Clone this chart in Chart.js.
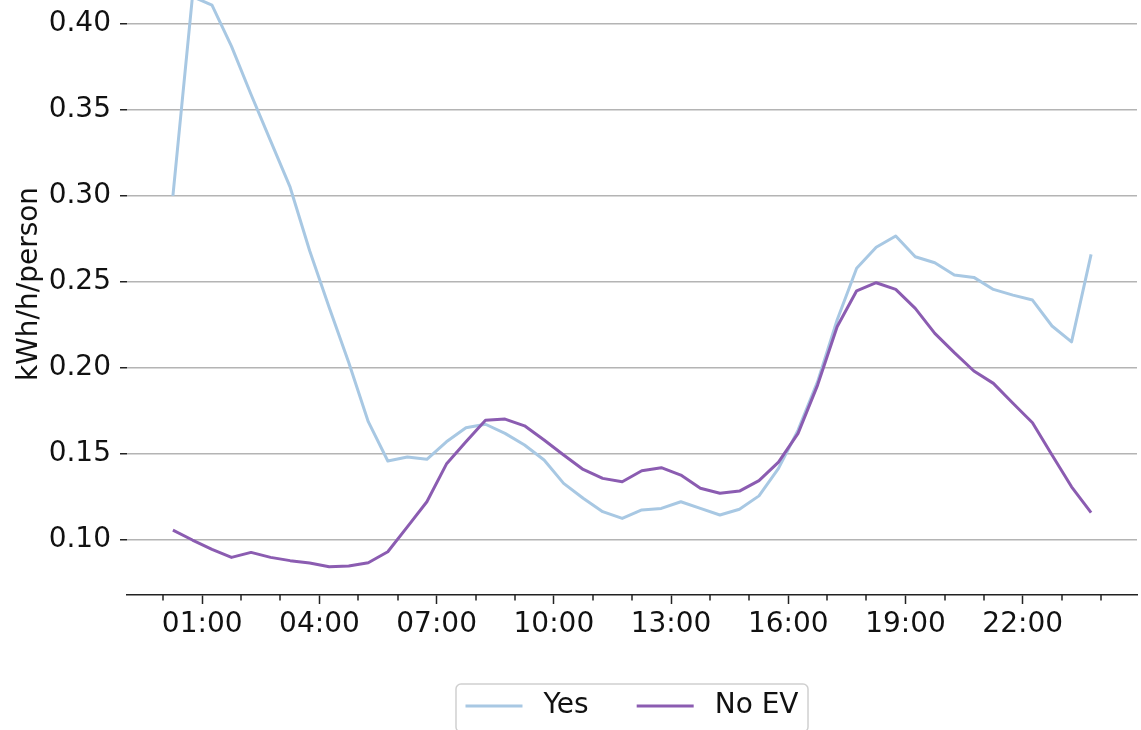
<!DOCTYPE html>
<html>
<head>
<meta charset="utf-8">
<script src="https://cdn.jsdelivr.net/npm/chart.js@4.4.1/dist/chart.umd.min.js"></script>
<style>
  html, body { margin: 0; padding: 0; background: #fff; overflow: hidden; width: 1141px; height: 730px; }
  #wrap { position: absolute; left: 0; top: -40px; }
</style>
</head>
<body>
<div id="wrap"><canvas id="c" width="1141" height="770"></canvas></div>
<script>
// Half-hourly slot mid-points
const slotTimes = [
  '00:15','00:45','01:15','01:45','02:15','02:45','03:15','03:45',
  '04:15','04:45','05:15','05:45','06:15','06:45','07:15','07:45',
  '08:15','08:45','09:15','09:45','10:15','10:45','11:15','11:45',
  '12:15','12:45','13:15','13:45','14:15','14:45','15:15','15:45',
  '16:15','16:45','17:15','17:45','18:15','18:45','19:15','19:45',
  '20:15','20:45','21:15','21:45','22:15','22:45','23:15','23:45'
];

// Average consumption, kWh/h/person
const yesValues = [
  0.300, 0.416, 0.411, 0.387, 0.359, 0.332, 0.305, 0.268,
  0.235, 0.203, 0.1685, 0.1456, 0.1479, 0.1466, 0.1568, 0.1650,
  0.1670, 0.1617, 0.1549, 0.1462, 0.1326, 0.1239, 0.1161, 0.1122,
  0.1171, 0.1180, 0.1219, 0.1180, 0.1142, 0.1175, 0.1253, 0.1413,
  0.1636, 0.1918, 0.2277, 0.2578, 0.2700, 0.2766, 0.2645, 0.2610,
  0.2539, 0.2525, 0.2455, 0.2422, 0.2393, 0.2242, 0.2150, 0.2659
];
const noEvValues = [
  0.1054, 0.0996, 0.0942, 0.0895, 0.0924, 0.0895, 0.0876, 0.0862,
  0.0841, 0.0845, 0.0864, 0.0928, 0.1073, 0.1219, 0.1438, 0.1568,
  0.1693, 0.1700, 0.1661, 0.1578, 0.1491, 0.1407, 0.1355, 0.1335,
  0.1399, 0.1417, 0.1374, 0.1297, 0.1268, 0.1281, 0.1342, 0.1450,
  0.1617, 0.1898, 0.2238, 0.2447, 0.2494, 0.2455, 0.2345, 0.2199,
  0.2087, 0.1980, 0.1908, 0.1792, 0.1679, 0.1491, 0.1306, 0.1155
];

const seriesNames = ['Yes', 'No EV'];
const seriesColors = ['#a8c8e3', '#8b5cb1'];

// Axis ticks
const hourTicks = [0,1,2,3,4,5,6,7,8,9,10,11,12,13,14,15,16,17,18,19,20,21,22,23,24];
const labelledTicks = ['01:00','04:00','07:00','10:00','13:00','16:00','19:00','22:00'];
const yTicks = [0.10, 0.15, 0.20, 0.25, 0.30, 0.35, 0.40];

const FONT = "'DejaVu Sans', 'Liberation Sans', sans-serif";
const INK = '#111111';
const AXIS = '#222222';

function toHours(t) { const [h, m] = t.split(':').map(Number); return h + m / 60; }
function fmtHour(h) { return String(h).padStart(2, '0') + ':00'; }
function isLabelled(h) { return labelledTicks.includes(fmtHour(h)); }

const points = vals => slotTimes.map((t, i) => ({ x: toHours(t), y: vals[i] }));

// Short unlabelled hour ticks under the x axis
const minorTicks = {
  id: 'minorTicks',
  afterDraw(chart) {
    const s = chart.scales.x, ctx = chart.ctx;
    ctx.save();
    ctx.strokeStyle = AXIS;
    ctx.lineWidth = 1.5;
    hourTicks.forEach(h => {
      if (isLabelled(h)) return;
      const x = Math.round(s.getPixelForValue(h));
      ctx.beginPath();
      ctx.moveTo(x, s.top);
      ctx.lineTo(x, s.top + 5.5);
      ctx.stroke();
    });
    ctx.restore();
  }
};

// Framed legend with line samples, centred under the plot
const framedLegend = {
  id: 'framedLegend',
  afterDraw(chart) {
    const ctx = chart.ctx, area = chart.chartArea;
    ctx.save();
    ctx.font = '28px ' + FONT;
    const handle = 57, textGap = 21, colGap = 48, pad = 9.5;
    const items = chart.data.datasets.map(d => ({ label: d.label, color: d.borderColor, w: ctx.measureText(d.label).width }));
    const total = pad * 2 + items.reduce((a, it, i) => a + handle + textGap + it.w + (i ? colGap : 0), 0);
    const left = (area.left + area.right) / 2 - total / 2;
    const top = area.bottom + 89;
    const cy = top + 22;
    // frame
    const r = 5, w = total, h = 48;
    ctx.beginPath();
    ctx.moveTo(left + r, top);
    ctx.lineTo(left + w - r, top);
    ctx.arcTo(left + w, top, left + w, top + r, r);
    ctx.lineTo(left + w, top + h - r);
    ctx.arcTo(left + w, top + h, left + w - r, top + h, r);
    ctx.lineTo(left + r, top + h);
    ctx.arcTo(left, top + h, left, top + h - r, r);
    ctx.lineTo(left, top + r);
    ctx.arcTo(left, top, left + r, top, r);
    ctx.closePath();
    ctx.fillStyle = 'rgba(255,255,255,0.8)';
    ctx.fill();
    ctx.strokeStyle = '#d0d0d0';
    ctx.lineWidth = 1.5;
    ctx.stroke();
    // entries
    let x = left + pad;
    ctx.textBaseline = 'middle';
    ctx.textAlign = 'left';
    items.forEach((it, i) => {
      if (i) x += colGap;
      ctx.strokeStyle = it.color;
      ctx.lineWidth = 3;
      ctx.beginPath();
      ctx.moveTo(x, cy);
      ctx.lineTo(x + handle, cy);
      ctx.stroke();
      x += handle + textGap;
      ctx.fillStyle = INK;
      ctx.fillText(it.label, x, cy);
      x += it.w;
    });
    ctx.restore();
  }
};

Chart.defaults.font.family = FONT;
Chart.defaults.font.size = 28;
Chart.defaults.color = INK;

new Chart(document.getElementById('c'), {
  type: 'line',
  data: {
    datasets: [
      { label: seriesNames[0], data: points(yesValues), borderColor: seriesColors[0], backgroundColor: seriesColors[0], order: 2 },
      { label: seriesNames[1], data: points(noEvValues), borderColor: seriesColors[1], backgroundColor: seriesColors[1], order: 1 }
    ]
  },
  options: {
    responsive: false,
    animation: false,
    events: [],
    layout: { padding: { top: 13, right: 4, bottom: 85, left: 0 } },
    elements: {
      line: { borderWidth: 3, tension: 0, fill: false, borderJoinStyle: 'round', borderCapStyle: 'butt' },
      point: { radius: 0 }
    },
    plugins: { legend: { display: false }, tooltip: { enabled: false } },
    scales: {
      x: {
        type: 'linear',
        min: -0.925,
        max: 24.925,
        afterBuildTicks: s => { s.ticks = hourTicks.map(v => ({ value: v })); },
        afterFit: s => { s.height = 50; s.paddingLeft = 0; s.paddingRight = 0; },
        ticks: {
          autoSkip: false, maxRotation: 0, minRotation: 0, padding: 4, color: INK,
          callback: v => (isLabelled(v) ? fmtHour(v) : '')
        },
        grid: {
          drawOnChartArea: false, drawTicks: true, tickLength: 9, tickWidth: 1.5,
          tickColor: c => (c.tick && isLabelled(c.tick.value) ? AXIS : 'rgba(0,0,0,0)')
        },
        border: { display: true, color: AXIS, width: 1.5 }
      },
      y: {
        min: 0.0676,
        max: 0.4297,
        afterBuildTicks: s => { s.ticks = yTicks.map(v => ({ value: v })); },
        afterFit: s => { s.width = 127; s.paddingTop = 0; s.paddingBottom = 0; },
        ticks: { padding: 9, color: INK, callback: v => Number(v).toFixed(2) },
        grid: { color: '#b4b4b4', lineWidth: 1.5, drawTicks: true, tickLength: 7, tickColor: AXIS, tickWidth: 1.5 },
        border: { display: false },
        title: { display: true, text: 'kWh/h/person', color: INK, font: { size: 28 }, padding: { top: 13, bottom: 0 } }
      }
    }
  },
  plugins: [minorTicks, framedLegend]
});
</script>
</body>
</html>
